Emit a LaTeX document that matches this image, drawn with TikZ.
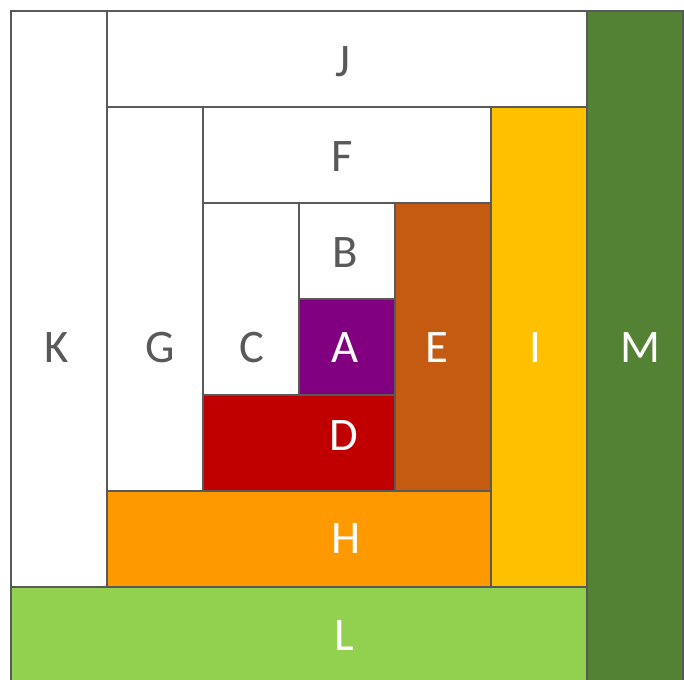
\documentclass[tikz,border=0pt]{standalone}
\usepackage{fontspec}
\setmainfont{Carlito}
\definecolor{borde}{RGB}{89,89,89}
\definecolor{morado}{RGB}{128,0,128}
\definecolor{rojo}{RGB}{192,0,0}
\definecolor{marron}{RGB}{197,90,17}
\definecolor{oro}{RGB}{255,192,0}
\definecolor{naranja}{RGB}{255,153,0}
\definecolor{verdeclaro}{RGB}{146,208,80}
\definecolor{verdeoscuro}{RGB}{84,130,53}
\begin{document}
\begin{tikzpicture}[
    x=0.75pt, y=-0.75pt,
    bloque/.style={draw=borde, line width=1.8pt, fill=white},
    letra/.style={font=\fontsize{35}{42}\selectfont, text=borde, inner sep=0pt},
    letrab/.style={letra, text=white}
]
    \useasboundingbox (0,0) rectangle (684,679);
    \clip (0,0) rectangle (684,679);

    % --- CENTRO: A, B, C, D ---
    \draw[bloque, fill=morado] (299,299) rectangle (395,395);
    \draw[bloque] (299,203) rectangle (395,299);
    \draw[bloque] (203,203) rectangle (299,395);
    \draw[bloque, fill=rojo] (203,395) rectangle (395,491);

    % --- SEGUNDA VUELTA: E, F, G, H ---
    \draw[bloque, fill=marron] (395,203) rectangle (491,491);
    \draw[bloque] (203,107) rectangle (491,203);
    \draw[bloque] (107,107) rectangle (203,491);
    \draw[bloque, fill=naranja] (107,491) rectangle (491,587);

    % --- TERCERA VUELTA: I, J, K, L ---
    \draw[bloque, fill=oro] (491,107) rectangle (587,587);
    \draw[bloque] (107,11) rectangle (587,107);
    \draw[bloque] (11,11) rectangle (107,587);
    \draw[bloque, fill=verdeclaro] (11,587) rectangle (587,683);

    % --- FRANJA DERECHA: M ---
    \draw[bloque, fill=verdeoscuro] (587,11) rectangle (683,683);

    % --- LETRAS ---
    \node[letrab] (lA) at (345,348) {A};
    \node[letra]  (lB) at (345,253) {B};
    \node[letra]  (lC) at (252,348) {C};
    \node[letrab] (lD) at (344,436) {D};
    \node[letrab] (lE) at (437,348) {E};
    \node[letra]  (lF) at (342,157) {F};
    \node[letra]  (lG) at (160,348) {G};
    \node[letrab] (lH) at (346,539) {H};
    \node[letrab] (lI) at (535,348) {I};
    \node[letra]  (lJ) at (343,62) {J};
    \node[letra]  (lK) at (57,348) {K};
    \node[letrab] (lL) at (344,636) {L};
    \node[letrab] (lM) at (640,348) {M};
\end{tikzpicture}
\end{document}
